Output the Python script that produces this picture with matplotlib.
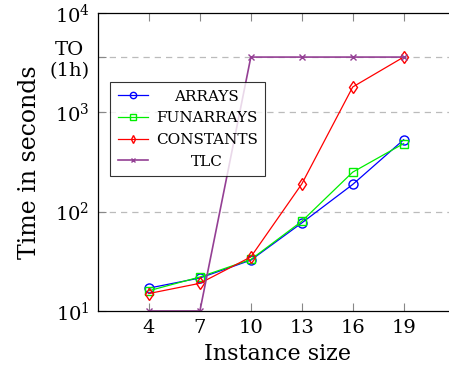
import matplotlib.pyplot as plt
import numpy as np

plt.rcParams['font.family'] = ['DejaVu Serif']
plt.rcParams['mathtext.fontset'] = 'dejavuserif'

# instance sizes
sizes = [4, 7, 10, 13, 16, 19]

# time in seconds (3600 = timeout)
arrays = [17, 21.5, 32.5, 77, 188, 530]
funarrays = [16, 22, 33, 80, 250, 485]
constants = [15, 19, 35, 190, 1800, 3600]
tlc = [10, 10, 3600, 3600, 3600, 3600]

fig = plt.figure(figsize=(4.49, 3.74), dpi=100)
ax = fig.add_axes([98 / 449, 1 - 311 / 374, 360 / 449, 298 / 374])

ax.plot(sizes, arrays, color='#0000ff', marker='o', mfc='none', ms=6.5, lw=0.9, label='ARRAYS')
ax.plot(sizes, funarrays, color='#00ee00', marker='s', mfc='none', ms=6, lw=0.9, label='FUNARRAYS')
ax.plot(sizes, constants, color='#ff0000', marker='d', mfc='none', ms=6, lw=0.9, label='CONSTANTS')
ax.plot(sizes, tlc, color='#943f94', marker='x', ms=4.5, lw=1.2, label='TLC')

ax.set_yscale('log')
ax.set_ylim(10, 10000)
ax.set_xlim(1, 22.2)

# grid lines
for yv in [100, 1000, 3600]:
    ax.axhline(yv, color='#bbbbbb', ls=(0, (5, 4)), lw=0.9, zorder=0)

yt = [10, 100, 1000, 3600, 10000]
ax.set_yticks(yt)
ax.set_yticklabels(['$10^1$', '$10^2$', '$10^3$', 'TO\n(1h)', '$10^4$'])
for lbl in ax.get_yticklabels():
    lbl.set_multialignment('center')
ax.minorticks_off()
ax.set_xticks(sizes)
ax.tick_params(direction='in', length=6, width=0.8, color='#888888',
               labelsize=14, top=True, right=True, pad=6)

ax.set_xlabel('Instance size', fontsize=16)
ax.set_ylabel('Time in seconds', fontsize=17, labelpad=6)

leg = ax.legend(loc='upper left', bbox_to_anchor=(0.033, 0.768), fontsize=11,
                frameon=True, fancybox=False, edgecolor='black',
                borderaxespad=0, handlelength=2.0, handletextpad=0.5,
                markerscale=0.7, borderpad=0.5, labelspacing=0.5)
leg.get_frame().set_linewidth(0.8)

for s in ['top', 'bottom', 'left']:
    ax.spines[s].set_linewidth(0.9)

# center legend labels like pgfplots
fig.canvas.draw()
r = fig.canvas.get_renderer()
texts = leg.get_texts()
widths = [t.get_window_extent(r).width for t in texts]
wmax = max(widths)
for t, w in zip(texts, widths):
    t.set_x((wmax - w) / 2)

plt.savefig('out.png', dpi=100)
